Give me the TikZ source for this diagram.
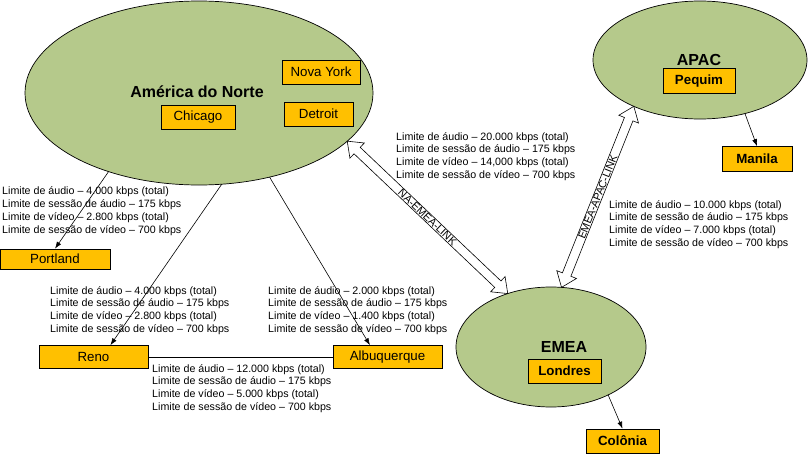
\documentclass[tikz,border=0pt]{standalone}
\usepackage{fontspec}
\setmainfont{Liberation Sans}
\usetikzlibrary{positioning,calc,shapes.geometric,shapes.arrows,arrows.meta}

\definecolor{regiongreen}{RGB}{181,201,139}
\definecolor{cityorange}{RGB}{255,192,0}

\newcommand{\limitlines}[2]{Limite de áudio – #1 kbps (total)\\
  Limite de sessão de áudio – 175 kbps\\
  Limite de vídeo – #2 kbps (total)\\
  Limite de sessão de vídeo – 700 kbps}

\tikzset{
  region/.style = {ellipse, draw, fill=regiongreen, line width=0.7pt, inner sep=0pt, outer sep=0pt},
  regiontitle/.style = {inner sep=0pt, font=\fontsize{16}{18}\selectfont\bfseries},
  city/.style = {draw, fill=cityorange, line width=0.7pt, inner sep=0pt, minimum height=24pt,
    font=\fontsize{13.3}{15}\selectfont},
  hub/.style = {city, font=\fontsize{13.3}{15}\selectfont\bfseries},
  limits/.style = {align=left, inner sep=0pt, anchor=base west, font=\fontsize{10.67}{12.8}\selectfont},
  feed/.style = {-{Latex[length=7pt,width=5pt]}, line width=0.6pt},
  linkarrow/.style = {double arrow, draw, fill=white, line width=0.6pt, inner xsep=0pt, inner ysep=0.5pt,
    outer sep=0pt, double arrow head extend=6pt, double arrow tip angle=75,
    font=\fontsize{10.67}{11}\selectfont}
}

\begin{document}
\begin{tikzpicture}[x=1pt, y=-1pt]
  \useasboundingbox (0,0) rectangle (808,455);

  % regions
  \node[region, minimum width=348pt, minimum height=184pt] (na) at (199,93) {};
  \node[region, minimum width=214pt, minimum height=118pt] (apac) at (700,60) {};
  \node[region, minimum width=190pt, minimum height=120pt] (emea) at (551,347) {};

  \node[regiontitle] (natitle) at (197,92) {América do Norte};
  \node[regiontitle] (apactitle) at (699,60) {APAC};
  \node[regiontitle] (emeatitle) at (564,347) {EMEA};

  % cities
  \node[city, minimum width=74pt] (chicago) at (198,117) {Chicago};
  \node[city, minimum width=78pt] (novayork) at (321,72) {Nova York};
  \node[city, minimum width=69pt] (detroit) at (318.5,114) {Detroit};
  \node[hub, minimum width=72pt, minimum height=25pt] (pequim) at (699,81) {Pequim};
  \node[hub, minimum width=70pt, minimum height=25pt] (manila) at (757,159) {Manila};
  \node[hub, minimum width=73pt] (londres) at (564.5,371) {Londres};
  \node[hub, minimum width=73pt] (colonia) at (622.5,441) {Colônia};
  \node[city, minimum width=110pt, minimum height=20pt] (portland) at (55,259) {Portland};
  \node[city, minimum width=109pt, minimum height=23pt] (reno) at (93.5,357) {Reno};
  \node[city, minimum width=109pt, minimum height=23pt] (alb) at (387.5,357) {Albuquerque};

  % links between regions
  \path let \p1 = ($(emea.129)-(na.-18)$) in
    node[linkarrow, minimum height={veclen(\x1,\y1)}, rotate={atan2(\y1,\x1)}] (naemea)
      at ($(na.-18)!0.5!(emea.129)$) {NA-EMEA-LINK};
  \path let \p1 = ($(apac.215)-(emea.80)$) in
    node[linkarrow, minimum height={veclen(\x1,\y1)}, rotate={atan2(\y1,\x1)}] (emeaapac)
      at ($(emea.80)!0.5!(apac.215)$) {EMEA-APAC-LINK};

  % feeds
  \draw[feed] (na.221) -- (portland.north);
  \draw[feed] (na.284) -- (reno.35);
  \draw[feed] (na.310) -- (alb.146);
  \draw[feed] (apac.310) -- (manila.north);
  \draw[feed] (emea.-40) -- (colonia.north);
  \draw[line width=0.9pt] (reno) -- (alb);

  % bandwidth limits (base = last line)
  \node[limits] (portlandlim) at (2,233) {\limitlines{4.000}{2.800}};
  \node[limits] (renolim) at (50,332.5) {\limitlines{4.000}{2.800}};
  \node[limits] (alblim) at (268,332.5) {\limitlines{2.000}{1.400}};
  \node[limits] (renoalblim) at (152,410.5) {\limitlines{12.000}{5.000}};
  \node[limits] (naemealim) at (396,178.5) {\limitlines{20.000}{14,000}};
  \node[limits] (emeaapaclim) at (609,246.5) {\limitlines{10.000}{7.000}};
\end{tikzpicture}
\end{document}
